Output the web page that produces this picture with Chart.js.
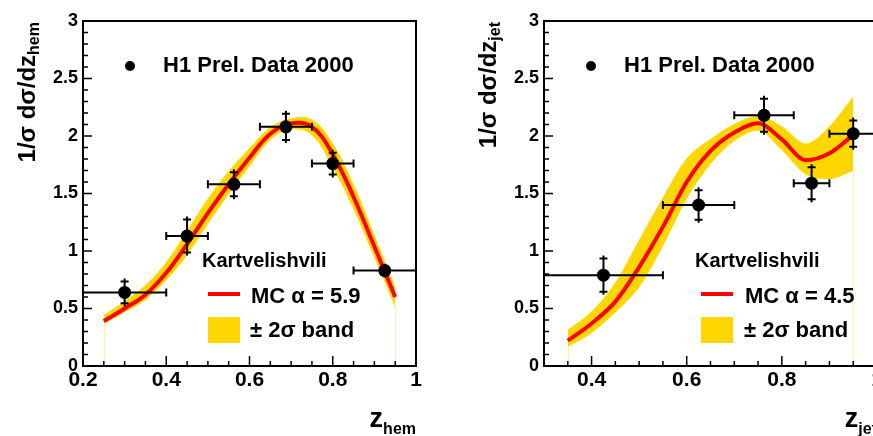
<!DOCTYPE html>
<html>
<head>
<meta charset="utf-8">
<script src="https://cdn.jsdelivr.net/npm/chart.js@4.4.1/dist/chart.umd.min.js"></script>
<style>
  html, body { margin: 0; padding: 0; overflow: hidden; background: #fff; width: 873px; height: 436px; }
  #hem { position: absolute; left: 0; top: 0; }
  #jet { position: absolute; left: 437px; top: 0; }
</style>
</head>
<body>
<canvas id="hem" width="436" height="436"></canvas>
<canvas id="jet" width="460" height="436"></canvas>
<script>
// tick labels
const yTicks = [0, 0.5, 1, 1.5, 2, 2.5, 3];
const xTicksHem = [0.2, 0.4, 0.6, 0.8, 1];
const xTicksJet = [0.4, 0.6, 0.8, 1];

// H1 data, z_hem
const hemX = [0.3, 0.45, 0.5625, 0.6875, 0.8, 0.925];
const hemY = [0.64, 1.13, 1.58, 2.08, 1.76, 0.83];
const hemXLo = [0.2, 0.4, 0.5, 0.625, 0.75, 0.85];
const hemXHi = [0.4, 0.5, 0.625, 0.75, 0.85, 1.0];
const hemYErr = [0.12, 0.17, 0.13, 0.14, 0.12, 0.06];

// MC (Kartvelishvili, alpha = 5.9) and 2 sigma band, z_hem
const mcHemX = [0.25, 0.3, 0.35, 0.4, 0.45, 0.5, 0.55, 0.6, 0.65, 0.7, 0.75, 0.8, 0.85, 0.9, 0.95];
const mcHemY = [0.39, 0.50, 0.62, 0.81, 1.06, 1.33, 1.58, 1.81, 2.02, 2.11, 2.08, 1.84, 1.47, 1.04, 0.60];
const bandHemHi = [0.44, 0.56, 0.70, 0.90, 1.17, 1.45, 1.69, 1.89, 2.07, 2.15, 2.14, 1.93, 1.57, 1.13, 0.68];
const bandHemLo = [0.37, 0.47, 0.58, 0.75, 0.97, 1.24, 1.50, 1.74, 1.97, 2.06, 2.01, 1.73, 1.37, 0.95, 0.52];

// H1 data, z_jet
const jetX = [0.425, 0.625, 0.7625, 0.8625, 0.95];
const jetY = [0.79, 1.40, 2.18, 1.59, 2.02];
const jetXLo = [0.3, 0.55, 0.7, 0.825, 0.9];
const jetXHi = [0.55, 0.7, 0.825, 0.9, 1.0];
const jetYErr = [0.17, 0.155, 0.17, 0.165, 0.14];

// MC (Kartvelishvili, alpha = 4.5) and 2 sigma band, z_jet
const mcJetX = [0.35, 0.4, 0.45, 0.5, 0.55, 0.6, 0.65, 0.7, 0.75, 0.8, 0.85, 0.9, 0.95];
const mcJetY = [0.22, 0.37, 0.56, 0.86, 1.21, 1.60, 1.87, 2.03, 2.11, 1.97, 1.79, 1.85, 2.01];
const bandJetHi = [0.31, 0.47, 0.72, 1.09, 1.46, 1.80, 1.97, 2.10, 2.17, 2.08, 1.93, 2.08, 2.34];
const bandJetLo = [0.17, 0.29, 0.47, 0.69, 1.05, 1.46, 1.76, 1.96, 2.05, 1.88, 1.67, 1.63, 1.70];

const FONT = '"Liberation Sans", Arial, Helvetica, sans-serif';
const GOLD = "#ffd700";
const RED = "#ff0000";

function toXY(xs, ys) {
  return xs.map((x, i) => ({ x: x, y: ys[i] }));
}

function panelPlugin(p) {
  return {
    id: "panel",
    beforeDatasetsDraw(chart) {
      const x = chart.scales.x, y = chart.scales.y, ctx = chart.ctx;
      // thin edges of the band histogram down to zero
      ctx.save();
      ctx.strokeStyle = "#fff0b0";
      ctx.lineWidth = 1;
      [0, p.mcX.length - 1].forEach((i) => {
        const px = Math.round(x.getPixelForValue(p.mcX[i])) + 0.5;
        ctx.beginPath();
        ctx.moveTo(px, y.getPixelForValue(0));
        ctx.lineTo(px, y.getPixelForValue(p.bandLo[i]));
        ctx.stroke();
      });
      ctx.restore();
    },
    afterDatasetsDraw(chart) {
      const x = chart.scales.x, y = chart.scales.y, ctx = chart.ctx;
      const a = chart.chartArea;
      ctx.save();
      ctx.beginPath();
      ctx.rect(a.left, a.top, a.right - a.left, a.bottom - a.top);
      ctx.clip();
      ctx.strokeStyle = "#000";
      ctx.lineWidth = 2;
      p.dataX.forEach((xv, i) => {
        const px = x.getPixelForValue(xv);
        const py = y.getPixelForValue(p.dataY[i]);
        const xl = x.getPixelForValue(p.xLo[i]);
        const xr = x.getPixelForValue(p.xHi[i]);
        const yt = y.getPixelForValue(p.dataY[i] + p.yErr[i]);
        const yb = y.getPixelForValue(p.dataY[i] - p.yErr[i]);
        ctx.beginPath();
        ctx.moveTo(xl, py); ctx.lineTo(xr, py);
        ctx.moveTo(xl, py - 4); ctx.lineTo(xl, py + 4);
        ctx.moveTo(xr, py - 4); ctx.lineTo(xr, py + 4);
        ctx.moveTo(px, yt); ctx.lineTo(px, yb);
        ctx.moveTo(px - 4, yt + 3); ctx.lineTo(px + 4, yt + 3);
        ctx.moveTo(px - 4, yb - 3); ctx.lineTo(px + 4, yb - 3);
        ctx.stroke();
      });
      ctx.restore();

      // frame and inward ticks
      ctx.save();
      ctx.strokeStyle = "#000";
      ctx.lineWidth = 2;
      ctx.strokeRect(a.left, a.top, a.right - a.left, a.bottom - a.top);
      ctx.lineWidth = 1.5;
      ctx.beginPath();
      for (let k = 0; k <= 30; k++) {
        const py = y.getPixelForValue(k / 10);
        const len = k % 5 === 0 ? 9 : 5;
        ctx.moveTo(a.left, py); ctx.lineTo(a.left + len, py);
      }
      const k0 = Math.round(x.min / 0.05), k1 = Math.round(x.max / 0.05);
      for (let k = k0; k <= k1; k++) {
        const px = x.getPixelForValue(k * 0.05);
        const len = k % 4 === 0 ? 10 : 5;
        ctx.moveTo(px, a.bottom); ctx.lineTo(px, a.bottom - len);
      }
      ctx.stroke();
      ctx.restore();
    },
    afterDraw(chart) {
      const ctx = chart.ctx, a = chart.chartArea;
      const L = p.legend;
      ctx.save();
      ctx.fillStyle = "#000";
      ctx.textBaseline = "alphabetic";
      ctx.textAlign = "left";

      // data legend
      ctx.beginPath();
      ctx.arc(L.dotX, 66, 5, 0, Math.PI * 2);
      ctx.fill();
      ctx.font = "bold 22px " + FONT;
      ctx.fillText("H1 Prel. Data 2000", L.textX, 72);

      // MC legend
      ctx.font = "bold 20px " + FONT;
      ctx.fillText("Kartvelishvili", L.kartX, 267);
      ctx.strokeStyle = RED;
      ctx.lineWidth = 4;
      ctx.beginPath();
      ctx.moveTo(L.lineX, 294); ctx.lineTo(L.lineX + 32, 294);
      ctx.stroke();
      ctx.font = "bold 22px " + FONT;
      ctx.fillText(p.mcLabel, L.mcTextX, 303);
      ctx.fillStyle = GOLD;
      ctx.fillRect(L.lineX, 317, 32, 26);
      ctx.fillStyle = "#000";
      ctx.fillText("\u00b1 2\u03c3 band", L.bandTextX, 337);

      // x axis title, right aligned to the axis end
      ctx.font = "bold 27px " + FONT;
      const wz = ctx.measureText("z").width;
      ctx.font = "bold 16px " + FONT;
      const wsx = ctx.measureText(p.sub).width;
      const sx = a.right - wz - wsx;
      ctx.font = "bold 27px " + FONT;
      ctx.fillText("z", sx, 427);
      ctx.font = "bold 16px " + FONT;
      ctx.fillText(p.sub, sx + wz, 434);

      // y axis title, rotated, right aligned to the top of the axis
      const main = "1/\u03c3 d\u03c3/dz";
      ctx.font = "bold 24px " + FONT;
      const wm = ctx.measureText(main).width;
      ctx.font = "bold 16px " + FONT;
      const ws = ctx.measureText(p.sub).width;
      ctx.translate(a.left - 48, a.top + 1);
      ctx.rotate(-Math.PI / 2);
      ctx.font = "bold 24px " + FONT;
      ctx.fillText(main, -(wm + ws), 0);
      ctx.font = "bold 16px " + FONT;
      ctx.fillText(p.sub, -ws, 4);
      ctx.restore();
    },
  };
}

function makePanel(id, p) {
  const ctx = document.getElementById(id).getContext("2d");
  const curve = p.smooth
    ? { tension: 0.4, cubicInterpolationMode: "default" }
    : { cubicInterpolationMode: "monotone" };
  return new Chart(ctx, {
    type: "line",
    data: {
      datasets: [
        {
          data: toXY(p.dataX, p.dataY),
          showLine: false,
          pointRadius: 6.5,
          pointBackgroundColor: "#000",
          pointBorderWidth: 0,
          order: 0,
        },
        Object.assign({
          data: toXY(p.mcX, p.mcY),
          borderColor: RED,
          borderWidth: 4,
          pointRadius: 0,
          fill: false,
          order: 1,
        }, curve),
        Object.assign({
          data: toXY(p.mcX, p.bandHi),
          borderColor: GOLD,
          borderWidth: 1,
          pointRadius: 0,
          fill: false,
          order: 3,
        }, curve),
        Object.assign({
          data: toXY(p.mcX, p.bandLo),
          borderColor: GOLD,
          borderWidth: 1,
          backgroundColor: GOLD,
          pointRadius: 0,
          fill: "-1",
          order: 2,
        }, curve),
      ],
    },
    options: {
      responsive: false,
      animation: false,
      layout: { padding: { left: 0, right: p.padRight, top: 21, bottom: 0 } },
      plugins: { legend: { display: false }, tooltip: { enabled: false } },
      scales: {
        x: {
          type: "linear",
          min: p.xMin,
          max: p.xMax,
          grid: { display: false, drawTicks: false },
          border: { display: false },
          afterBuildTicks: (s) => { s.ticks = p.xTicks.map((v) => ({ value: v })); },
          afterFit: (s) => { s.height = 70; },
          ticks: {
            padding: 2,
            color: "#000",
            font: { family: FONT, size: 21, weight: "bold" },
            callback: (v) => String(Math.round(v * 10) / 10),
          },
        },
        y: {
          type: "linear",
          min: 0,
          max: 3,
          grid: { display: false, drawTicks: false },
          border: { display: false },
          afterBuildTicks: (s) => { s.ticks = yTicks.map((v) => ({ value: v })); },
          afterFit: (s) => { s.width = p.yWidth; },
          ticks: {
            padding: 5,
            color: "#000",
            font: { family: FONT, size: 18, weight: "bold" },
            callback: (v) => String(v),
          },
        },
      },
    },
    plugins: [panelPlugin(p)],
  });
}

makePanel("hem", {
  dataX: hemX, dataY: hemY, xLo: hemXLo, xHi: hemXHi, yErr: hemYErr,
  mcX: mcHemX, mcY: mcHemY, bandHi: bandHemHi, bandLo: bandHemLo,
  xMin: 0.2, xMax: 1.0, xTicks: xTicksHem, yWidth: 83, padRight: 20, smooth: true,
  sub: "hem", mcLabel: "MC \u03b1 = 5.9",
  legend: { dotX: 130, textX: 163, kartX: 202, lineX: 208, mcTextX: 251, bandTextX: 250 },
});

makePanel("jet", {
  dataX: jetX, dataY: jetY, xLo: jetXLo, xHi: jetXHi, yErr: jetYErr,
  mcX: mcJetX, mcY: mcJetY, bandHi: bandJetHi, bandLo: bandJetLo,
  xMin: 0.3, xMax: 1.0, xTicks: xTicksJet, yWidth: 107, padRight: 20, smooth: false,
  sub: "jet", mcLabel: "MC \u03b1 = 4.5",
  legend: { dotX: 154, textX: 187, kartX: 258, lineX: 264, mcTextX: 308, bandTextX: 307 },
});
</script>
</body>
</html>
